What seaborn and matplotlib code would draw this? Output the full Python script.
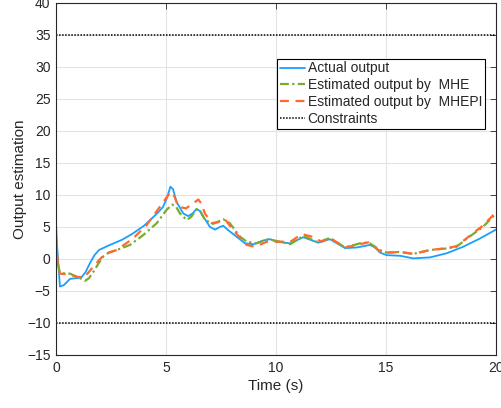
import numpy as np
import pandas as pd
import matplotlib
matplotlib.use("Agg")
import matplotlib.pyplot as plt
import seaborn as sns

# ---- data ----
t_actual = [0, 0.05, 0.18, 0.35, 0.64, 0.9, 1.15, 1.35, 1.55, 1.75, 1.95, 2.2, 2.45,
            3.0, 3.5, 4.0, 4.5, 4.86, 5.05, 5.2, 5.32, 5.48, 5.79, 6.01, 6.2, 6.39,
            6.55, 6.7, 7.0, 7.23, 7.45, 7.6, 7.83, 8.2, 8.59, 8.97, 9.42, 9.73, 10.03,
            10.64, 11.24, 11.92, 12.45, 13.14, 13.67, 14.27, 14.5, 14.73, 15.03, 15.64,
            16.24, 17.0, 17.76, 18.5, 19.27, 20]
y_actual = [5.5, 2.0, -4.3, -4.1, -3.1, -3.0, -2.9, -2.0, -0.6, 0.6, 1.4, 1.8, 2.2,
            3.0, 4.0, 5.2, 6.8, 8.1, 9.6, 11.3, 10.9, 8.9, 7.1, 6.7, 7.1, 7.8,
            7.5, 6.6, 5.0, 4.6, 5.0, 5.2, 4.5, 3.5, 2.45, 2.3, 2.9, 3.1, 2.7,
            2.45, 3.4, 2.55, 3.1, 1.7, 1.8, 2.2, 1.8, 1.0, 0.6, 0.5,
            0.1, 0.25, 0.9, 1.9, 3.2, 4.6]

t_mhe = [0, 0.1, 0.18, 0.64, 1.09, 1.32, 1.5, 1.7, 1.95, 2.15, 2.4, 2.76, 3.36, 3.97,
         4.58, 5.03, 5.28, 5.45, 5.64, 5.94, 6.15, 6.39, 6.55, 6.77, 7.15, 7.6, 7.9,
         8.36, 8.67, 9.12, 9.65, 10.18, 10.64, 11.24, 11.92, 12.45, 13.14, 13.82,
         14.2, 14.73, 15.03, 15.64, 16.24, 17.0, 17.76, 18.2, 18.8, 19.4, 20]
y_mhe = [2.0, -1.0, -2.2, -2.3, -3.0, -3.4, -3.0, -2.0, -0.6, 0.4, 1.0, 1.4, 2.2, 3.75,
         5.6, 7.7, 8.5, 8.2, 7.1, 6.1, 6.6, 7.8, 7.5, 6.1, 5.5, 6.2, 5.6,
         3.5, 2.7, 2.45, 3.1, 2.7, 2.3, 3.6, 2.6, 3.3, 1.8, 2.45,
         2.6, 1.4, 1.0, 1.1, 0.8, 1.4, 1.65, 1.9, 3.5, 5.0, 7.1]

t_mhepi = [0, 0.1, 0.18, 0.56, 1.0, 1.24, 1.45, 1.7, 1.95, 2.15, 2.4, 2.76, 3.5, 4.12,
           4.73, 5.0, 5.21, 5.38, 5.56, 5.9, 6.2, 6.47, 6.6, 6.77, 7.08, 7.45, 7.68,
           8.06, 8.44, 8.67, 9.05, 9.58, 10.18, 10.7, 11.17, 11.62, 12.08, 12.45,
           13.14, 13.67, 14.2, 14.73, 15.1, 15.64, 16.24, 17.0, 17.76, 18.2, 18.8,
           19.4, 20]
y_mhepi = [3.0, -1.4, -2.3, -2.4, -2.8, -2.9, -2.2, -1.2, -0.2, 0.5, 1.0, 1.4, 3.2, 5.3,
           8.2, 9.5, 10.5, 9.8, 8.2, 7.9, 8.6, 9.3, 8.7, 7.1, 5.6, 5.8, 6.2,
           4.5, 3.0, 2.2, 1.9, 2.7, 2.7, 2.8, 3.9, 3.5, 2.7, 3.3,
           1.8, 2.2, 2.6, 1.2, 1.0, 1.1, 0.8, 1.4, 1.7, 2.0, 3.6,
           5.2, 7.3]

constraint_upper = 35
constraint_lower = -10
x_ticks = [0, 5, 10, 15, 20]
y_ticks = [-15, -10, -5, 0, 5, 10, 15, 20, 25, 30, 35, 40]

labels = ["Actual output", "Estimated output by  MHE",
          "Estimated output by  MHEPI", "Constraints"]

# ---- style ----
sns.set_theme(style="white")
plt.rcParams['font.family'] = ['Liberation Sans', 'DejaVu Sans']
plt.rcParams['xtick.direction'] = 'in'
plt.rcParams['ytick.direction'] = 'in'

fig = plt.figure(figsize=(5.01, 4.08), dpi=100)
ax = fig.add_axes([56/501, 53/408, 440/501, 352/408])

c_blue = '#1A9FFF'
c_green = '#77AC30'
c_orange = '#FF6A2E'

df_a = pd.DataFrame({"t": t_actual, "y": y_actual})
df_m = pd.DataFrame({"t": t_mhe, "y": y_mhe})
df_p = pd.DataFrame({"t": t_mhepi, "y": y_mhepi})

sns.lineplot(data=df_a, x="t", y="y", ax=ax, color=c_blue, lw=1.3,
             label=labels[0], sort=False)
sns.lineplot(data=df_m, x="t", y="y", ax=ax, color=c_green, lw=1.6,
             linestyle=(0, (4, 1.5, 1, 1.5)), label=labels[1], sort=False)
sns.lineplot(data=df_p, x="t", y="y", ax=ax, color=c_orange, lw=1.6,
             linestyle=(0, (4, 3)), label=labels[2], sort=False)
ax.axhline(constraint_upper, color='black', lw=1.1, linestyle=(0, (1, 1)),
           label=labels[3])
ax.axhline(constraint_lower, color='black', lw=1.1, linestyle=(0, (1, 1)))

ax.set_xlim(0, 20)
ax.set_ylim(-15, 40)
ax.set_xticks(x_ticks)
ax.set_yticks(y_ticks)
ax.tick_params(axis='both', which='both', labelsize=10, colors='#262626',
               length=4, width=0.6, top=True, right=True, pad=4)
ax.grid(True, color='#E3E3E3', lw=0.8)
for s in ax.spines.values():
    s.set_color('#262626')
    s.set_linewidth(0.8)

ax.set_xlabel("Time (s)", fontsize=11, color='#262626', labelpad=3)
ax.set_ylabel("Output estimation", fontsize=11, color='#262626', labelpad=0)

leg = ax.legend(loc='upper right', bbox_to_anchor=(0.975, 0.842), fontsize=10,
                frameon=True, fancybox=False, framealpha=1, edgecolor='black',
                borderpad=0.2, labelspacing=0.2, handlelength=1.8,
                handletextpad=0.2, borderaxespad=0)
leg.get_frame().set_linewidth(0.8)

fig.savefig("out.png", dpi=100)
